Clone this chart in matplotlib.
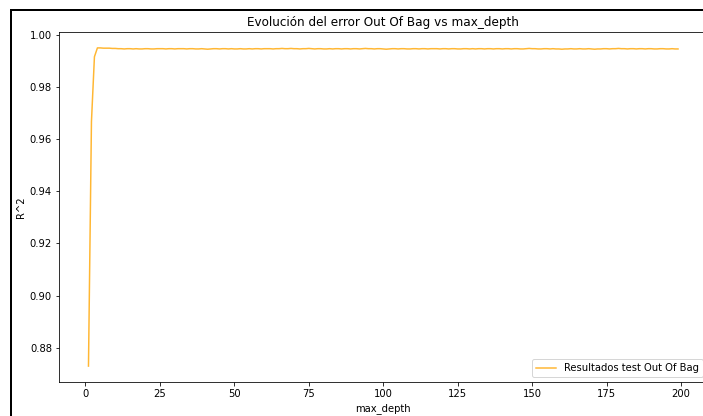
import matplotlib
matplotlib.use("Agg")
import matplotlib.pyplot as plt
from matplotlib.patches import Rectangle

# max_depth tested and the Out Of Bag R^2 for each
max_depth = list(range(1, 200))
oob_r2 = [
    0.8729, 0.9668, 0.9917, 0.9951, 0.9951, 0.9950, 0.9950, 0.9950, 0.9949, 0.9949,
    0.9948, 0.9948, 0.9947, 0.9948, 0.9948, 0.9947, 0.9948, 0.9947, 0.9947, 0.9948,
    0.9948, 0.9947, 0.9947, 0.9948, 0.9948, 0.9948, 0.9947, 0.9948, 0.9948, 0.9947,
    0.9948, 0.9948, 0.9948, 0.9947, 0.9948, 0.9948, 0.9947, 0.9947, 0.9948, 0.9947,
    0.9946, 0.9947, 0.9948, 0.9948, 0.9947, 0.9948, 0.9948, 0.9947, 0.9948, 0.9947,
    0.9947, 0.9948, 0.9947, 0.9947, 0.9948, 0.9947, 0.9948, 0.9948, 0.9947, 0.9948,
    0.9948, 0.9948, 0.9947, 0.9948, 0.9948, 0.9949, 0.9948, 0.9948, 0.9949, 0.9948,
    0.9948, 0.9947, 0.9948, 0.9948, 0.9949, 0.9948, 0.9947, 0.9948, 0.9948, 0.9947,
    0.9947, 0.9948, 0.9947, 0.9948, 0.9948, 0.9947, 0.9948, 0.9948, 0.9947, 0.9948,
    0.9948, 0.9947, 0.9948, 0.9949, 0.9948, 0.9948, 0.9947, 0.9948, 0.9948, 0.9947,
    0.9946, 0.9947, 0.9948, 0.9948, 0.9947, 0.9948, 0.9948, 0.9947, 0.9947, 0.9948,
    0.9948, 0.9947, 0.9948, 0.9948, 0.9947, 0.9948, 0.9948, 0.9948, 0.9947, 0.9948,
    0.9948, 0.9947, 0.9948, 0.9948, 0.9947, 0.9947, 0.9948, 0.9948, 0.9947, 0.9948,
    0.9947, 0.9948, 0.9948, 0.9947, 0.9948, 0.9948, 0.9947, 0.9948, 0.9948, 0.9947,
    0.9948, 0.9948, 0.9947, 0.9948, 0.9948, 0.9947, 0.9947, 0.9948, 0.9949, 0.9948,
    0.9948, 0.9947, 0.9947, 0.9948, 0.9948, 0.9947, 0.9948, 0.9947, 0.9947, 0.9946,
    0.9947, 0.9947, 0.9948, 0.9947, 0.9947, 0.9948, 0.9947, 0.9947, 0.9948, 0.9947,
    0.9946, 0.9947, 0.9947, 0.9948, 0.9948, 0.9947, 0.9948, 0.9948, 0.9949, 0.9948,
    0.9948, 0.9947, 0.9948, 0.9948, 0.9947, 0.9948, 0.9948, 0.9947, 0.9948, 0.9948,
    0.9947, 0.9947, 0.9948, 0.9948, 0.9947, 0.9947, 0.9948, 0.9947, 0.9947,
]

fig = plt.figure(figsize=(703 / 72, 416 / 72), dpi=72)
ax = fig.add_axes([59 / 703, 34 / 416, 648.5 / 703, 350 / 416])

ax.plot(max_depth, oob_r2, color='orange', alpha=0.8, linewidth=1.5,
        label='Resultados test Out Of Bag')
ax.set_title('Evolución del error Out Of Bag vs max_depth')
ax.set_xlabel('max_depth')
ax.set_ylabel('R^2')
ax.set_xticks([0, 25, 50, 75, 100, 125, 150, 175, 200])
ax.legend(loc='lower right')

# black frame left by the notebook crop
frame = Rectangle((11 / 703, -0.1), 1.2, (416 - 10) / 416 + 0.1,
                  transform=fig.transFigure, fill=False,
                  edgecolor='black', linewidth=2, clip_on=False)
fig.patches.append(frame)

fig.savefig('out.png', dpi=72)
